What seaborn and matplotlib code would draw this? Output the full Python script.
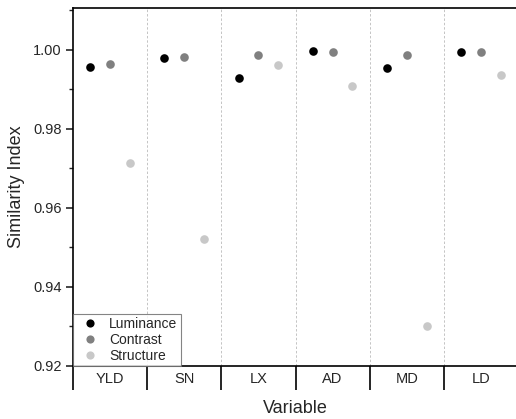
import pandas as pd
import numpy as np
import matplotlib
matplotlib.use("Agg")
import matplotlib.pyplot as plt
import seaborn as sns
from matplotlib.ticker import MultipleLocator, FixedLocator

# values
variables = ["YLD", "SN", "LX", "AD", "MD", "LD"]
components = ["Luminance", "Contrast", "Structure"]
luminance = [0.9956, 0.9978, 0.9927, 0.9996, 0.9953, 0.9993]
contrast = [0.9964, 0.9982, 0.9987, 0.9994, 0.9987, 0.9994]
structure = [0.9714, 0.9521, 0.9960, 0.9907, 0.9300, 0.9936]
colors = ["#000000", "#808080", "#c8c8c8"]

df = pd.DataFrame({
    "Variable": variables * 3,
    "Component": sum([[c] * len(variables) for c in components], []),
    "Value": luminance + contrast + structure,
})

sns.set_theme(style="white")
plt.rcParams["font.family"] = ["Liberation Sans", "DejaVu Sans"]

fig = plt.figure(figsize=(5.16, 4.19), dpi=100)
ax = fig.add_axes([0.1415, 0.1265, 0.8624, 0.8544])

sns.stripplot(data=df, x="Variable", y="Value", hue="Component", order=variables,
              hue_order=components, palette=colors, dodge=True, jitter=False,
              size=6.2, linewidth=0, ax=ax, zorder=3)

ax.set_xlim(-0.5, len(variables) - 0.5)
ax.set_ylim(0.92, 1.0105)

# dashed separators between categories
for b in np.arange(0.5, len(variables) - 0.5, 1):
    ax.axvline(b, color="#c4c4c4", ls=(0, (2.5, 2)), lw=0.7, zorder=1)

# x ticks: long separators below axis, labels centred
ax.xaxis.set_major_locator(FixedLocator(np.arange(-0.5, len(variables), 1)))
ax.xaxis.set_minor_locator(FixedLocator(np.arange(len(variables))))
ax.set_xticklabels([""] * (len(variables) + 1))
ax.set_xticklabels(variables, minor=True)
ax.tick_params(axis="x", which="major", direction="out", length=17, width=1.2,
               color="black", bottom=True)
ax.tick_params(axis="x", which="minor", length=0, pad=4, labelsize=10.5)

ax.yaxis.set_major_locator(MultipleLocator(0.02))
ax.yaxis.set_minor_locator(MultipleLocator(0.01))
ax.yaxis.set_major_formatter(matplotlib.ticker.FormatStrFormatter("%.2f"))
ax.tick_params(axis="y", which="major", direction="out", length=5, width=1.2,
               left=True, labelsize=10.5, pad=3)
ax.tick_params(axis="y", which="minor", direction="out", length=3, width=1.0, left=True)

for s in ["left", "top", "bottom"]:
    ax.spines[s].set_color("black")
    ax.spines[s].set_linewidth(1.2)
ax.spines["right"].set_visible(False)

ax.set_xlabel("Variable", fontsize=13, labelpad=4)
ax.set_ylabel("Similarity Index", fontsize=13, labelpad=6)

leg = ax.legend(loc="lower left", frameon=True, fancybox=False, fontsize=10,
                handletextpad=0.35, borderpad=0.25, labelspacing=0.12,
                borderaxespad=0, handlelength=2.0, markerscale=0.95)
leg.get_frame().set_edgecolor("#666666")
leg.get_frame().set_linewidth(0.8)
leg.set_title(None)

fig.savefig("out.png", dpi=100)
